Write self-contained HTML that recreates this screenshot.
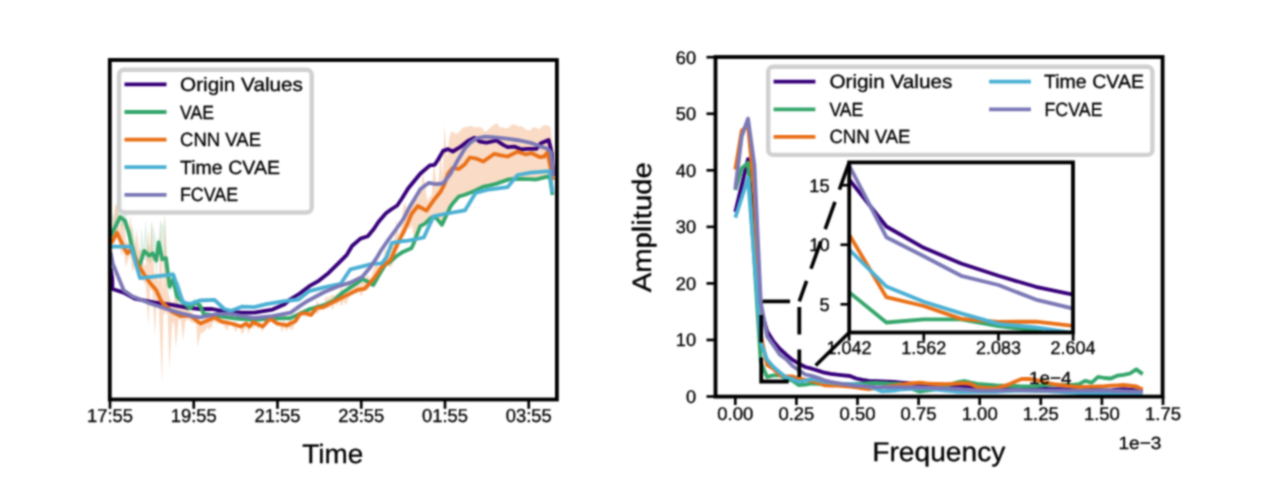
<!DOCTYPE html><html><head><meta charset="utf-8"><style>html,body{margin:0;padding:0;background:#fff;width:1280px;height:497px;overflow:hidden}svg{display:block;-webkit-font-smoothing:antialiased;will-change:transform}text{text-rendering:geometricPrecision}</style></head><body>
<svg width="1280" height="497" viewBox="0 0 1280 497">
<defs><filter id="soft" x="0" y="0" width="1280" height="497" filterUnits="userSpaceOnUse" color-interpolation-filters="sRGB"><feConvolveMatrix order="5" kernelMatrix="0.00087 0.00695 0.01388 0.00695 0.00087 0.00695 0.05540 0.11068 0.05540 0.00695 0.01388 0.11068 0.22111 0.11068 0.01388 0.00695 0.05540 0.11068 0.05540 0.00695 0.00087 0.00695 0.01388 0.00695 0.00087" divisor="1" edgeMode="duplicate"/></filter></defs>
<rect x="0" y="0" width="1280" height="497" fill="#fff"/>
<g filter="url(#soft)">
<rect x="0" y="0" width="1280" height="497" fill="#fff"/>
<defs><clipPath id="cl"><rect x="110" y="60" width="447" height="339"/></clipPath><clipPath id="cr"><rect x="715.5" y="57" width="447.5" height="339.5"/></clipPath><clipPath id="ci"><rect x="849.2" y="162.4" width="223.8" height="170.1"/></clipPath></defs>
<g clip-path="url(#cl)">
<polygon points="110.5,229.0 112.7,211.7 114.9,219.1 117.0,200.0 119.3,210.6 121.5,190.0 123.7,198.3 125.9,212.3 128.1,224.1 130.3,232.9 132.5,225.6 134.7,237.2 136.9,254.6 139.1,260.1 141.3,227.6 143.5,245.3 145.7,219.7 147.9,244.4 150.1,246.4 151.3,221.0 154.5,231.8 156.7,241.3 158.9,235.9 160.3,220.0 163.3,226.1 164.8,214.0 167.7,264.6 169.9,278.7 172.1,270.0 174.3,278.9 176.5,288.0 178.7,280.4 180.9,285.4 183.1,298.6 185.3,299.7 187.5,304.3 189.7,300.3 191.9,302.6 194.1,297.8 196.3,300.7 198.5,303.4 200.7,306.1 202.9,311.0 205.1,313.1 207.3,312.2 209.5,311.5 211.7,314.3 213.9,312.2 216.1,313.3 218.3,315.4 220.5,315.5 222.7,313.5 224.9,316.3 227.1,316.6 229.3,316.4 231.5,317.0 233.7,317.5 235.9,317.4 238.1,317.3 240.3,317.9 242.5,316.5 244.7,315.6 246.9,318.5 249.1,317.2 251.3,318.9 253.5,316.9 255.7,318.5 257.9,318.7 260.1,317.3 262.3,318.0 264.5,318.3 266.7,316.7 268.9,318.0 271.1,317.9 273.3,316.0 275.5,317.1 277.7,315.6 279.9,317.6 282.1,317.2 284.3,315.8 286.5,317.4 288.7,315.5 290.9,317.1 293.1,316.1 295.3,314.2 297.5,313.1 299.7,312.0 301.9,310.1 304.1,310.8 306.3,309.9 308.5,307.5 310.7,305.9 312.9,307.4 315.1,306.4 317.3,304.8 319.5,305.5 321.7,303.1 323.9,304.0 326.1,302.6 328.3,302.0 330.5,301.5 332.7,299.5 334.9,297.0 337.1,296.4 339.3,294.8 341.5,291.7 343.7,291.1 345.9,288.9 348.1,287.5 350.3,284.6 352.5,285.0 354.7,283.5 356.9,281.8 359.1,280.6 361.3,278.8 363.5,277.8 365.7,277.6 367.9,280.9 370.1,280.7 372.3,283.7 374.5,281.8 376.7,276.8 378.9,273.1 381.1,270.6 383.3,267.2 385.5,263.7 387.7,262.0 389.9,261.1 392.1,259.1 394.3,257.1 396.5,255.5 398.7,253.3 400.9,250.7 403.1,250.9 405.3,250.0 407.5,249.2 409.7,247.2 411.9,246.2 414.1,240.6 416.3,235.3 418.5,229.7 420.7,225.1 422.9,223.4 425.1,221.5 427.3,219.4 429.5,216.5 431.7,215.2 433.9,216.8 436.1,215.7 438.3,219.8 440.5,222.5 442.7,221.8 444.9,217.8 447.1,212.3 449.3,206.8 451.5,203.8 453.7,199.7 455.9,197.2 458.1,196.5 460.3,194.1 462.5,194.3 464.7,194.1 466.9,192.9 469.1,192.4 471.3,190.5 473.5,189.4 475.7,187.9 477.9,186.7 480.1,186.4 482.3,186.4 484.5,185.4 486.7,184.4 488.9,183.4 491.1,182.2 493.3,183.7 495.5,183.1 497.7,180.6 499.9,180.3 502.1,180.0 504.3,180.3 506.5,178.6 508.7,178.5 510.9,176.2 513.1,176.2 515.3,178.0 517.5,178.2 519.7,178.1 521.9,176.4 524.1,176.4 526.3,178.3 528.5,178.5 530.7,176.9 532.9,178.2 535.1,178.4 537.3,177.0 539.5,177.1 541.7,176.9 543.9,176.8 546.1,176.4 548.3,175.7 550.5,180.5 552.7,194.2 552.7,195.8 550.5,182.7 548.3,178.5 546.1,177.6 543.9,178.1 541.7,180.0 539.5,179.2 537.3,180.3 535.1,182.0 532.9,182.2 530.7,179.9 528.5,180.4 526.3,179.8 524.1,180.3 521.9,179.8 519.7,179.7 517.5,180.5 515.3,181.3 513.1,181.3 510.9,181.5 508.7,180.0 506.5,181.0 504.3,182.8 502.1,182.4 499.9,184.4 497.7,183.9 495.5,185.3 493.3,185.0 491.1,186.0 488.9,188.4 486.7,188.6 484.5,187.0 482.3,189.8 480.1,188.9 477.9,190.2 475.7,191.7 473.5,192.4 471.3,193.7 469.1,194.5 466.9,194.9 464.7,195.9 462.5,197.1 460.3,198.5 458.1,198.1 455.9,200.6 453.7,203.4 451.5,207.0 449.3,209.9 447.1,215.9 444.9,219.1 442.7,224.7 440.5,224.1 438.3,221.9 436.1,219.3 433.9,218.3 431.7,218.8 429.5,220.0 427.3,223.4 425.1,225.6 422.9,226.1 420.7,226.9 418.5,232.6 416.3,239.3 414.1,242.8 411.9,248.4 409.7,249.7 407.5,251.1 405.3,252.7 403.1,254.5 400.9,253.8 398.7,255.5 396.5,259.1 394.3,259.5 392.1,260.7 389.9,262.8 387.7,265.4 385.5,265.7 383.3,270.2 381.1,272.3 378.9,277.6 376.7,281.6 374.5,284.9 372.3,285.9 370.1,284.3 367.9,282.5 365.7,282.8 363.5,280.4 361.3,280.5 359.1,282.3 356.9,285.0 354.7,285.5 352.5,287.0 350.3,288.1 348.1,291.1 345.9,291.1 343.7,292.5 341.5,294.3 339.3,298.1 337.1,298.9 334.9,300.1 332.7,301.8 330.5,305.1 328.3,305.6 326.1,305.1 323.9,307.1 321.7,306.3 319.5,308.9 317.3,307.5 315.1,308.1 312.9,308.9 310.7,309.7 308.5,311.4 306.3,312.2 304.1,313.4 301.9,313.5 299.7,314.7 297.5,315.5 295.3,318.7 293.1,318.5 290.9,320.0 288.7,320.6 286.5,319.4 284.3,319.8 282.1,319.0 279.9,319.5 277.7,319.1 275.5,319.7 273.3,319.3 271.1,319.7 268.9,319.5 266.7,321.8 264.5,320.0 262.3,320.5 260.1,321.8 257.9,322.0 255.7,321.2 253.5,320.6 251.3,321.7 249.1,321.9 246.9,321.1 244.7,320.1 242.5,319.8 240.3,319.5 238.1,319.4 235.9,319.2 233.7,319.8 231.5,318.9 229.3,318.8 227.1,318.0 224.9,317.8 222.7,317.8 220.5,317.4 218.3,316.8 216.1,316.5 213.9,316.1 211.7,317.7 209.5,315.4 207.3,316.0 205.1,316.4 202.9,314.0 200.7,307.6 198.5,305.8 196.3,304.1 194.1,305.1 191.9,309.1 189.7,310.6 187.5,313.1 185.3,306.4 183.1,304.4 180.9,309.1 178.7,303.9 176.5,308.5 174.3,288.8 172.1,288.1 169.9,291.9 167.7,287.2 165.5,274.7 163.3,266.0 161.1,258.9 158.9,250.4 156.7,276.1 154.5,260.8 152.3,260.7 150.1,263.2 147.9,260.9 145.7,260.1 143.5,257.4 141.3,274.7 139.1,270.8 136.9,265.3 134.7,259.4 132.5,257.2 130.3,243.3 128.1,235.4 125.9,228.4 123.7,223.2 121.5,228.8 119.3,224.5 117.1,229.2 114.9,236.1 112.7,240.4 110.5,239.4" fill="#35a66b" fill-opacity="0.16" stroke="none"/>
<polygon points="110.5,236.9 112.7,230.0 114.9,205.4 118.0,205.0 119.3,229.2 121.5,223.1 124.0,215.0 125.9,241.4 128.1,243.7 130.3,215.1 132.5,234.6 134.7,248.4 136.9,228.9 139.1,251.1 141.3,249.4 143.5,264.8 145.7,265.6 148.5,230.0 150.1,258.4 151.3,221.0 154.5,275.4 156.7,271.9 158.9,283.4 160.3,220.0 163.3,295.3 164.8,214.0 167.7,289.9 169.9,298.6 172.1,304.7 174.3,299.2 176.5,284.0 178.7,309.3 180.9,304.6 183.1,295.7 185.3,302.2 187.5,305.0 189.7,312.8 191.9,311.3 194.1,316.9 196.3,318.3 198.5,320.6 200.7,321.5 202.9,319.1 205.1,320.1 207.3,317.3 209.5,316.8 211.7,317.8 213.9,316.6 216.1,315.5 218.3,318.8 220.5,320.1 222.7,318.9 224.9,320.4 227.1,319.7 229.3,322.3 231.5,322.0 233.7,322.5 235.9,321.7 238.1,324.7 240.3,324.0 242.5,324.6 244.7,323.3 246.9,320.9 249.1,324.4 251.3,320.1 253.5,321.5 255.7,319.6 257.9,322.9 260.1,321.9 262.3,323.9 264.5,322.7 266.7,321.3 268.9,316.5 271.1,318.4 273.3,319.9 275.5,321.3 277.7,320.9 279.9,323.0 282.1,322.2 284.3,320.0 286.5,324.2 288.7,320.2 290.9,320.2 293.1,319.9 295.3,320.2 297.5,316.6 299.7,310.2 301.9,310.7 304.1,311.5 306.3,312.0 308.5,311.4 310.7,310.3 312.9,310.9 315.1,307.4 317.3,300.1 319.5,305.6 321.7,304.8 323.9,304.1 326.1,296.0 328.3,298.6 330.5,295.9 332.7,294.8 334.9,295.5 337.1,293.5 339.3,292.5 341.5,285.8 343.7,292.7 345.9,293.2 348.1,285.3 350.3,285.1 352.5,289.0 354.7,285.2 356.9,279.0 359.1,285.0 361.3,281.6 363.5,282.0 365.7,278.2 367.9,274.8 370.1,279.1 372.3,273.2 374.5,266.7 376.7,262.3 378.9,268.2 381.1,263.8 383.3,258.6 385.5,248.1 387.7,253.5 389.9,256.0 392.1,246.1 394.3,239.5 396.5,219.6 398.7,235.8 400.9,228.4 403.1,207.6 405.3,201.7 407.5,214.4 409.7,210.0 411.9,202.4 414.1,201.2 416.3,199.7 418.5,198.1 420.7,191.6 422.9,172.8 425.1,185.2 427.3,201.0 429.5,197.4 431.7,194.6 433.9,161.0 436.1,180.8 438.3,184.6 440.5,152.3 442.7,178.8 444.4,125.0 447.1,158.7 449.3,137.6 451.5,131.0 453.7,132.8 455.9,133.8 458.1,133.2 460.3,130.4 462.5,127.9 464.7,127.2 466.9,126.8 469.1,126.3 471.3,125.8 473.5,126.9 475.7,127.4 477.9,126.9 480.1,127.2 482.3,128.0 484.5,131.6 486.7,130.8 488.9,129.0 491.1,127.1 493.3,125.1 495.5,123.7 497.7,123.6 499.9,127.9 502.1,127.1 504.3,127.9 506.5,128.1 508.7,127.8 510.9,125.3 513.1,124.6 515.3,124.6 517.5,125.9 519.7,126.4 521.9,126.3 524.1,128.0 526.3,129.5 528.5,130.3 530.7,130.2 532.9,127.3 535.1,127.5 537.3,128.0 539.5,129.6 541.7,126.5 543.9,125.3 546.1,125.1 548.3,125.7 550.5,126.4 552.7,145.9 552.7,181.4 550.5,177.0 548.3,176.4 546.1,177.0 543.9,177.5 541.7,178.1 539.5,178.6 537.3,179.2 535.1,179.4 532.9,179.4 530.7,179.4 528.5,179.4 526.3,179.4 524.1,179.4 521.9,179.4 519.7,179.4 517.5,179.4 515.3,179.4 513.1,179.4 510.9,179.4 508.7,179.4 506.5,180.1 504.3,180.8 502.1,181.5 499.9,182.2 497.7,182.9 495.5,183.6 493.3,184.3 491.1,185.0 488.9,185.7 486.7,186.5 484.5,187.3 482.3,188.1 480.1,188.9 477.9,189.7 475.7,190.6 473.5,191.4 471.3,192.1 469.1,192.9 466.9,193.7 464.7,194.4 462.5,195.2 460.3,196.0 458.1,197.3 455.9,200.0 453.7,202.7 451.5,205.4 449.3,209.1 447.1,213.8 444.9,218.5 442.7,223.2 440.5,223.2 438.3,220.5 436.1,217.8 433.9,217.6 431.7,217.6 429.5,218.8 427.3,220.6 425.1,222.3 422.9,224.0 420.7,225.7 418.5,230.6 416.3,236.3 414.1,242.1 411.9,224.3 409.7,229.5 407.5,225.9 405.3,234.4 403.1,236.0 400.9,240.6 398.7,248.8 396.5,248.7 394.3,254.5 392.1,266.0 389.9,267.8 387.7,265.3 385.5,266.3 383.3,269.6 381.1,275.0 378.9,276.8 376.7,282.6 374.5,281.3 372.3,282.9 370.1,286.9 367.9,289.9 365.7,289.9 363.5,291.3 361.3,296.6 359.1,291.7 356.9,293.8 354.7,293.4 352.5,294.8 350.3,295.7 348.1,299.5 345.9,305.2 343.7,301.2 341.5,306.7 339.3,301.0 337.1,305.5 334.9,303.5 332.7,310.6 330.5,305.2 328.3,308.6 326.1,308.3 323.9,310.1 321.7,310.2 319.5,310.1 317.3,314.4 315.1,311.9 312.9,315.1 310.7,316.8 308.5,316.5 306.3,316.9 304.1,316.0 301.9,315.4 299.7,316.2 297.5,319.7 295.3,323.3 293.1,329.1 290.9,330.1 288.7,327.4 286.5,331.5 284.3,326.8 282.1,332.1 279.9,326.3 277.7,326.3 275.5,325.6 273.3,322.6 271.1,321.8 268.9,321.5 266.7,324.3 264.5,326.4 262.3,332.2 260.1,327.1 257.9,329.3 255.7,325.3 253.5,329.1 251.3,326.4 248.2,334.1 246.9,326.0 244.7,329.8 241.8,335.0 240.3,328.0 238.1,327.5 235.9,332.3 233.7,328.0 231.5,325.2 229.3,325.7 227.3,330.9 224.9,327.1 222.7,324.5 220.5,323.3 218.3,323.8 216.1,323.0 213.9,320.7 211.7,326.6 209.5,329.7 207.3,327.3 205.1,330.7 203.2,332.5 200.7,333.0 197.5,347.0 196.3,324.2 194.1,322.9 191.9,322.7 189.7,321.1 187.5,319.1 185.3,321.7 183.1,340.6 180.9,320.1 178.7,319.8 175.8,348.6 174.3,323.4 172.1,322.8 169.4,369.6 167.7,315.2 165.5,311.8 163.3,315.6 162.1,384.0 158.9,308.3 156.7,297.2 154.9,335.8 152.3,290.8 150.1,288.7 148.5,326.1 145.7,284.6 143.5,281.5 141.3,277.6 139.1,280.2 136.9,266.8 134.7,266.6 132.5,272.5 130.3,254.6 128.1,259.4 125.9,267.8 123.7,251.2 121.5,255.5 119.3,244.5 117.1,236.4 114.9,243.5 112.7,250.2 110.5,253.7" fill="#ea7017" fill-opacity="0.25" stroke="none"/>
<polyline points="110.5,268.0 112.2,278.0 112.5,289.0 123.7,292.6 134.6,298.6 153.9,302.3 170.8,304.7 186.5,307.7 200.0,309.0 212.1,309.0 224.2,311.4 242.3,312.6 254.3,312.6 272.5,309.6 284.5,304.2 290.0,299.5 299.7,293.5 309.3,286.2 317.8,281.4 328.6,272.9 338.3,263.3 346.8,254.8 352.0,246.0 360.5,238.6 367.8,236.2 373.8,229.0 378.6,221.7 385.9,213.3 391.0,209.5 397.2,205.5 402.1,198.3 408.1,188.5 420.2,173.8 429.9,165.4 434.7,164.8 438.3,159.3 443.1,150.9 448.0,149.1 452.8,151.5 460.0,147.2 468.5,140.6 474.4,137.7 480.0,141.6 486.6,142.7 496.6,140.5 503.2,144.9 507.6,147.1 514.3,146.6 520.9,149.3 527.6,148.8 536.4,148.8 540.9,143.2 548.6,139.9 551.9,153.2 553.0,176.0" fill="none" stroke="#37007a" stroke-width="3.8" stroke-linejoin="round" stroke-linecap="butt" />
<polyline points="110.5,236.0 112.2,232.8 120.1,217.1 124.9,220.7 128.5,231.6 131.0,242.4 134.6,255.7 139.0,267.5 144.2,250.9 149.1,255.7 152.7,253.3 156.3,260.6 158.7,242.4 162.3,259.3 166.0,258.1 169.6,286.6 173.2,279.3 176.8,296.2 182.9,302.3 190.1,308.3 195.0,302.3 200.0,305.4 203.6,313.8 218.1,316.2 236.2,318.6 254.3,319.9 272.5,318.6 290.6,318.0 300.0,313.8 309.3,309.2 326.2,304.3 333.5,300.7 343.1,292.3 350.4,287.4 357.6,282.6 362.5,279.0 367.3,281.4 373.3,285.0 379.4,274.2 385.4,264.5 390.0,262.1 395.6,256.8 402.8,251.9 411.3,248.3 413.0,245.0 420.2,226.1 425.0,223.6 431.1,217.6 435.9,217.6 441.9,224.9 450.4,206.7 454.0,201.9 458.8,196.5 464.9,194.7 474.5,191.0 483.3,186.6 490.0,185.3 497.7,183.3 508.7,179.4 519.8,178.8 536.4,179.4 545.3,177.2 549.7,176.1 552.5,195.0" fill="none" stroke="#35a66b" stroke-width="3.8" stroke-linejoin="round" stroke-linecap="butt" />
<polyline points="110.5,243.0 112.2,241.2 117.1,232.8 123.7,247.3 127.3,253.3 131.0,249.7 138.2,265.0 144.2,274.5 149.1,281.7 156.3,290.2 161.1,301.1 166.0,305.9 172.0,311.9 180.5,316.0 190.0,315.5 200.5,323.5 214.5,317.4 221.7,321.7 231.4,323.5 241.1,326.5 245.9,323.5 249.5,326.5 253.1,322.3 262.8,326.5 270.0,318.6 277.3,323.5 287.0,325.3 295.4,321.1 300.0,314.0 305.0,313.0 311.0,315.0 316.6,308.0 323.8,306.8 331.1,303.1 338.3,299.5 345.6,295.9 357.6,289.9 364.9,288.6 374.5,277.8 381.8,266.9 390.5,260.0 397.5,244.0 406.0,227.0 411.5,214.0 417.8,206.0 426.5,210.6 433.5,200.5 440.7,191.5 444.3,184.7 448.0,173.8 452.8,167.8 458.8,169.0 464.9,164.2 469.7,157.5 476.6,158.7 483.3,161.5 494.4,153.8 501.0,155.4 507.6,156.5 517.6,151.6 525.4,154.3 532.0,153.2 539.7,157.1 544.2,156.5 547.5,152.1 553.0,180.0" fill="none" stroke="#ea7017" stroke-width="3.8" stroke-linejoin="round" stroke-linecap="butt" />
<polyline points="110.5,246.7 131.0,246.7 140.0,278.1 173.2,274.5 182.9,302.3 190.1,304.1 199.8,300.5 214.5,299.9 224.2,309.0 231.4,310.8 242.3,306.6 254.3,307.2 266.4,304.2 284.5,301.1 298.5,299.5 309.3,291.1 326.2,286.8 340.7,283.8 350.4,269.3 362.5,266.3 372.1,263.9 381.8,263.3 386.6,257.2 391.9,242.9 402.8,241.1 408.1,240.6 423.8,237.5 433.5,216.4 444.3,214.0 464.9,210.4 475.6,193.0 486.6,189.9 507.6,187.1 517.6,175.0 530.9,172.7 549.7,171.1 552.5,193.0" fill="none" stroke="#4bb0d4" stroke-width="3.8" stroke-linejoin="round" stroke-linecap="butt" />
<polyline points="110.5,252.0 112.8,263.6 123.7,290.2 132.2,296.2 150.3,303.5 168.4,309.5 180.5,313.1 192.5,316.2 200.0,317.4 218.1,313.8 230.2,313.8 254.3,318.0 272.5,316.2 290.6,312.6 300.0,305.9 308.1,300.7 323.8,292.3 338.3,286.2 350.4,282.6 362.5,276.6 369.7,268.1 377.0,257.2 381.0,250.5 388.3,239.9 397.0,228.0 404.0,218.0 409.0,208.0 414.5,199.0 420.5,189.0 428.6,182.9 435.9,184.1 443.1,183.5 450.4,173.8 457.6,160.5 464.9,148.5 470.0,143.0 476.6,138.3 485.5,136.6 497.7,137.7 508.7,138.8 519.8,140.5 532.0,143.2 540.9,146.6 547.5,148.8 550.8,152.1 553.5,176.0" fill="none" stroke="#7b78b6" stroke-width="3.8" stroke-linejoin="round" stroke-linecap="butt" />
</g>
<rect x="109.8" y="60" width="447.1" height="339.5" fill="none" stroke="#000" stroke-width="3.8"/>
<line x1="110.00" y1="399.5" x2="110.00" y2="408.8" stroke="#000" stroke-width="2.7"/>
<text x="110.00" y="421.9" font-size="18.7" text-anchor="middle" font-family='"Liberation Sans", sans-serif' textLength="46" lengthAdjust="spacingAndGlyphs" stroke="#000" stroke-width="0.3" >17:55</text>
<line x1="193.75" y1="399.5" x2="193.75" y2="408.8" stroke="#000" stroke-width="2.7"/>
<text x="193.75" y="421.9" font-size="18.7" text-anchor="middle" font-family='"Liberation Sans", sans-serif' textLength="46" lengthAdjust="spacingAndGlyphs" stroke="#000" stroke-width="0.3" >19:55</text>
<line x1="277.50" y1="399.5" x2="277.50" y2="408.8" stroke="#000" stroke-width="2.7"/>
<text x="277.50" y="421.9" font-size="18.7" text-anchor="middle" font-family='"Liberation Sans", sans-serif' textLength="46" lengthAdjust="spacingAndGlyphs" stroke="#000" stroke-width="0.3" >21:55</text>
<line x1="361.25" y1="399.5" x2="361.25" y2="408.8" stroke="#000" stroke-width="2.7"/>
<text x="361.25" y="421.9" font-size="18.7" text-anchor="middle" font-family='"Liberation Sans", sans-serif' textLength="46" lengthAdjust="spacingAndGlyphs" stroke="#000" stroke-width="0.3" >23:55</text>
<line x1="445.00" y1="399.5" x2="445.00" y2="408.8" stroke="#000" stroke-width="2.7"/>
<text x="445.00" y="421.9" font-size="18.7" text-anchor="middle" font-family='"Liberation Sans", sans-serif' textLength="46" lengthAdjust="spacingAndGlyphs" stroke="#000" stroke-width="0.3" >01:55</text>
<line x1="528.75" y1="399.5" x2="528.75" y2="408.8" stroke="#000" stroke-width="2.7"/>
<text x="528.75" y="421.9" font-size="18.7" text-anchor="middle" font-family='"Liberation Sans", sans-serif' textLength="46" lengthAdjust="spacingAndGlyphs" stroke="#000" stroke-width="0.3" >03:55</text>
<text x="332.8" y="463" font-size="26.5" text-anchor="middle" font-family='"Liberation Sans", sans-serif' textLength="61" lengthAdjust="spacingAndGlyphs" stroke="#000" stroke-width="0.3" >Time</text>
<rect x="119" y="69.8" width="192.7" height="142.7" rx="5" ry="5" fill="#fff" fill-opacity="0.8" stroke="#d0d0d0" stroke-width="4.4"/>
<line x1="124.5" y1="84.4" x2="166.5" y2="84.4" stroke="#37007a" stroke-width="3.8"/>
<text x="180" y="90.9" font-size="19.2" text-anchor="start" font-family='"Liberation Sans", sans-serif' textLength="123" lengthAdjust="spacingAndGlyphs" stroke="#000" stroke-width="0.3" >Origin Values</text>
<line x1="124.5" y1="112.0" x2="166.5" y2="112.0" stroke="#35a66b" stroke-width="3.8"/>
<text x="180" y="118.5" font-size="19.2" text-anchor="start" font-family='"Liberation Sans", sans-serif' textLength="34" lengthAdjust="spacingAndGlyphs" stroke="#000" stroke-width="0.3" >VAE</text>
<line x1="124.5" y1="139.6" x2="166.5" y2="139.6" stroke="#ea7017" stroke-width="3.8"/>
<text x="180" y="146.1" font-size="19.2" text-anchor="start" font-family='"Liberation Sans", sans-serif' textLength="81" lengthAdjust="spacingAndGlyphs" stroke="#000" stroke-width="0.3" >CNN VAE</text>
<line x1="124.5" y1="167.2" x2="166.5" y2="167.2" stroke="#4bb0d4" stroke-width="3.8"/>
<text x="180" y="173.7" font-size="19.2" text-anchor="start" font-family='"Liberation Sans", sans-serif' textLength="100" lengthAdjust="spacingAndGlyphs" stroke="#000" stroke-width="0.3" >Time CVAE</text>
<line x1="124.5" y1="194.8" x2="166.5" y2="194.8" stroke="#7b78b6" stroke-width="3.8"/>
<text x="180" y="201.3" font-size="19.2" text-anchor="start" font-family='"Liberation Sans", sans-serif' textLength="58" lengthAdjust="spacingAndGlyphs" stroke="#000" stroke-width="0.3" >FCVAE</text>
<g clip-path="url(#cr)">
<polyline points="735.3,212.0 748.0,159.2 760.8,308.9 767.1,331.3 773.5,341.4 779.9,348.9 786.2,354.7 792.6,359.9 798.9,363.6 805.3,367.0 811.7,368.7 818.0,370.6 824.4,372.7 830.8,373.8 837.1,374.7 843.5,375.4 849.9,376.0 856.2,378.5 862.6,379.8 869.0,380.8 875.3,381.1 881.7,381.4 888.1,381.7 894.4,382.0 900.8,382.6 907.2,383.2 913.5,383.8 919.9,384.1 926.2,384.4 932.6,384.7 939.0,385.0 945.3,385.3 951.7,385.6 958.1,385.8 964.4,386.0 970.8,386.9 977.2,387.7 983.5,388.3 989.9,388.0 996.3,387.7 1002.6,387.3 1009.0,387.0 1015.4,386.7 1021.7,386.9 1028.1,387.4 1034.5,387.9 1040.8,388.3 1047.2,388.8 1053.5,389.1 1059.9,389.2 1066.3,389.4 1072.6,389.6 1079.0,389.7 1085.4,389.9 1091.7,390.0 1098.1,390.2 1104.5,390.4 1110.8,390.4 1117.2,389.7 1123.6,389.1 1129.9,389.7 1136.3,390.4 1142.7,391.0" fill="none" stroke="#37007a" stroke-width="3.8" stroke-linejoin="round" stroke-linecap="butt" />
<polyline points="735.3,190.0 741.7,168.3 748.0,162.7 760.8,362.4 767.1,376.9 773.5,375.4 779.9,375.4 786.2,378.6 792.6,380.7 798.9,385.2 805.3,384.7 811.7,383.5 818.0,383.9 824.4,384.4 830.8,384.8 837.1,384.7 843.5,384.5 849.9,384.3 856.2,384.0 862.6,383.6 869.0,383.2 875.3,382.8 881.7,383.1 888.1,383.5 894.4,383.7 900.8,384.0 907.2,385.5 913.5,389.4 919.9,391.6 926.2,390.7 932.6,389.9 939.0,388.2 945.3,386.1 951.7,384.0 958.1,382.2 964.4,381.0 970.8,382.6 977.2,383.9 983.5,384.5 989.9,385.0 996.3,385.5 1002.6,385.7 1009.0,385.9 1015.4,386.1 1021.7,386.3 1028.1,386.5 1034.5,386.4 1040.8,385.7 1047.2,385.1 1053.5,384.8 1059.9,384.9 1066.3,384.9 1072.6,385.0 1079.0,384.1 1085.4,380.8 1091.7,382.6 1098.1,376.9 1104.5,378.0 1110.8,378.5 1117.2,375.7 1123.6,374.8 1129.9,373.5 1136.3,369.4 1142.7,374.1" fill="none" stroke="#35a66b" stroke-width="3.8" stroke-linejoin="round" stroke-linecap="butt" />
<polyline points="735.3,169.5 741.7,131.0 748.0,125.0 754.4,192.0 760.8,335.0 767.1,364.9 773.5,369.0 779.9,375.2 786.2,376.5 792.6,376.5 798.9,378.5 805.3,379.8 811.7,380.8 818.0,383.0 824.4,385.3 830.8,385.6 837.1,385.6 843.5,386.0 849.9,386.6 856.2,387.4 862.6,388.4 869.0,389.0 875.3,388.2 881.7,387.3 888.1,386.4 894.4,385.6 900.8,384.7 907.2,383.9 913.5,383.1 919.9,382.6 926.2,383.3 932.6,383.8 939.0,384.0 945.3,384.2 951.7,383.9 958.1,383.5 964.4,383.2 970.8,384.0 977.2,387.1 983.5,387.7 989.9,388.1 996.3,387.9 1002.6,386.6 1009.0,384.4 1015.4,381.5 1021.7,379.0 1028.1,379.0 1034.5,379.5 1040.8,381.2 1047.2,382.9 1053.5,384.1 1059.9,385.0 1066.3,385.7 1072.6,386.5 1079.0,387.0 1085.4,386.8 1091.7,386.6 1098.1,386.3 1104.5,386.1 1110.8,385.7 1117.2,385.3 1123.6,385.0 1129.9,385.6 1136.3,386.5 1142.7,389.4" fill="none" stroke="#ea7017" stroke-width="3.8" stroke-linejoin="round" stroke-linecap="butt" />
<polyline points="735.3,217.7 748.0,178.0 760.8,342.2 767.1,359.8 773.5,367.0 779.9,372.5 786.2,377.5 792.6,379.2 798.9,381.9 805.3,380.6 811.7,379.0 818.0,380.4 824.4,381.9 830.8,382.6 837.1,383.3 843.5,383.8 849.9,384.2 856.2,384.6 862.6,385.4 869.0,387.0 875.3,388.7 881.7,391.3 888.1,391.0 894.4,390.7 900.8,389.5 907.2,389.2 913.5,388.9 919.9,388.6 926.2,388.7 932.6,389.3 939.0,389.9 945.3,390.6 951.7,391.2 958.1,391.8 964.4,391.9 970.8,391.9 977.2,391.9 983.5,391.9 989.9,391.9 996.3,391.8 1002.6,391.4 1009.0,391.1 1015.4,390.8 1021.7,390.8 1028.1,390.9 1034.5,391.0 1040.8,391.1 1047.2,391.2 1053.5,391.5 1059.9,391.9 1066.3,392.3 1072.6,392.7 1079.0,393.0 1085.4,393.4 1091.7,393.7 1098.1,393.6 1104.5,393.6 1110.8,393.5 1117.2,393.4 1123.6,393.4 1129.9,393.3 1136.3,393.3 1142.7,393.2" fill="none" stroke="#4bb0d4" stroke-width="3.8" stroke-linejoin="round" stroke-linecap="butt" />
<polyline points="735.3,189.0 741.7,136.5 748.0,118.6 754.4,165.0 760.8,302.3 767.1,336.4 773.5,345.4 779.9,354.7 786.2,359.1 792.6,366.0 798.9,370.3 805.3,374.5 811.7,375.9 818.0,377.9 824.4,380.3 830.8,381.8 837.1,383.0 843.5,384.1 849.9,385.0 856.2,385.8 862.6,386.2 869.0,386.6 875.3,387.0 881.7,387.1 888.1,387.1 894.4,387.2 900.8,387.2 907.2,387.3 913.5,387.4 919.9,387.5 926.2,387.6 932.6,387.8 939.0,388.0 945.3,388.3 951.7,388.6 958.1,389.0 964.4,389.4 970.8,389.9 977.2,390.3 983.5,390.7 989.9,390.6 996.3,390.5 1002.6,390.3 1009.0,390.2 1015.4,390.1 1021.7,390.2 1028.1,390.3 1034.5,390.4 1040.8,390.5 1047.2,390.6 1053.5,390.6 1059.9,390.6 1066.3,390.6 1072.6,390.6 1079.0,390.6 1085.4,390.6 1091.7,390.6 1098.1,390.6 1104.5,390.7 1110.8,390.9 1117.2,391.0 1123.6,391.1 1129.9,391.3 1136.3,391.4 1142.7,391.6" fill="none" stroke="#7b78b6" stroke-width="3.8" stroke-linejoin="round" stroke-linecap="butt" />
</g>
<rect x="715.5" y="57" width="447.1" height="339.6" fill="none" stroke="#000" stroke-width="3.8"/>
<line x1="706.5" y1="396.50" x2="715.5" y2="396.50" stroke="#000" stroke-width="2.7"/>
<text x="696" y="402.80" font-size="18.2" text-anchor="end" font-family='"Liberation Sans", sans-serif' stroke="#000" stroke-width="0.3" >0</text>
<line x1="706.5" y1="339.95" x2="715.5" y2="339.95" stroke="#000" stroke-width="2.7"/>
<text x="696" y="346.25" font-size="18.2" text-anchor="end" font-family='"Liberation Sans", sans-serif' stroke="#000" stroke-width="0.3" >10</text>
<line x1="706.5" y1="283.40" x2="715.5" y2="283.40" stroke="#000" stroke-width="2.7"/>
<text x="696" y="289.70" font-size="18.2" text-anchor="end" font-family='"Liberation Sans", sans-serif' stroke="#000" stroke-width="0.3" >20</text>
<line x1="706.5" y1="226.85" x2="715.5" y2="226.85" stroke="#000" stroke-width="2.7"/>
<text x="696" y="233.15" font-size="18.2" text-anchor="end" font-family='"Liberation Sans", sans-serif' stroke="#000" stroke-width="0.3" >30</text>
<line x1="706.5" y1="170.30" x2="715.5" y2="170.30" stroke="#000" stroke-width="2.7"/>
<text x="696" y="176.60" font-size="18.2" text-anchor="end" font-family='"Liberation Sans", sans-serif' stroke="#000" stroke-width="0.3" >40</text>
<line x1="706.5" y1="113.75" x2="715.5" y2="113.75" stroke="#000" stroke-width="2.7"/>
<text x="696" y="120.05" font-size="18.2" text-anchor="end" font-family='"Liberation Sans", sans-serif' stroke="#000" stroke-width="0.3" >50</text>
<line x1="706.5" y1="57.20" x2="715.5" y2="57.20" stroke="#000" stroke-width="2.7"/>
<text x="696" y="63.50" font-size="18.2" text-anchor="end" font-family='"Liberation Sans", sans-serif' stroke="#000" stroke-width="0.3" >60</text>
<line x1="735.30" y1="396.5" x2="735.30" y2="405" stroke="#000" stroke-width="2.7"/>
<text x="735.30" y="419.8" font-size="18.2" text-anchor="middle" font-family='"Liberation Sans", sans-serif' textLength="36" lengthAdjust="spacingAndGlyphs" stroke="#000" stroke-width="0.3" >0.00</text>
<line x1="796.40" y1="396.5" x2="796.40" y2="405" stroke="#000" stroke-width="2.7"/>
<text x="796.40" y="419.8" font-size="18.2" text-anchor="middle" font-family='"Liberation Sans", sans-serif' textLength="36" lengthAdjust="spacingAndGlyphs" stroke="#000" stroke-width="0.3" >0.25</text>
<line x1="857.50" y1="396.5" x2="857.50" y2="405" stroke="#000" stroke-width="2.7"/>
<text x="857.50" y="419.8" font-size="18.2" text-anchor="middle" font-family='"Liberation Sans", sans-serif' textLength="36" lengthAdjust="spacingAndGlyphs" stroke="#000" stroke-width="0.3" >0.50</text>
<line x1="918.60" y1="396.5" x2="918.60" y2="405" stroke="#000" stroke-width="2.7"/>
<text x="918.60" y="419.8" font-size="18.2" text-anchor="middle" font-family='"Liberation Sans", sans-serif' textLength="36" lengthAdjust="spacingAndGlyphs" stroke="#000" stroke-width="0.3" >0.75</text>
<line x1="979.70" y1="396.5" x2="979.70" y2="405" stroke="#000" stroke-width="2.7"/>
<text x="979.70" y="419.8" font-size="18.2" text-anchor="middle" font-family='"Liberation Sans", sans-serif' textLength="36" lengthAdjust="spacingAndGlyphs" stroke="#000" stroke-width="0.3" >1.00</text>
<line x1="1040.80" y1="396.5" x2="1040.80" y2="405" stroke="#000" stroke-width="2.7"/>
<text x="1040.80" y="419.8" font-size="18.2" text-anchor="middle" font-family='"Liberation Sans", sans-serif' textLength="36" lengthAdjust="spacingAndGlyphs" stroke="#000" stroke-width="0.3" >1.25</text>
<line x1="1101.90" y1="396.5" x2="1101.90" y2="405" stroke="#000" stroke-width="2.7"/>
<text x="1101.90" y="419.8" font-size="18.2" text-anchor="middle" font-family='"Liberation Sans", sans-serif' textLength="36" lengthAdjust="spacingAndGlyphs" stroke="#000" stroke-width="0.3" >1.50</text>
<line x1="1163.00" y1="396.5" x2="1163.00" y2="405" stroke="#000" stroke-width="2.7"/>
<text x="1163.00" y="419.8" font-size="18.2" text-anchor="middle" font-family='"Liberation Sans", sans-serif' textLength="36" lengthAdjust="spacingAndGlyphs" stroke="#000" stroke-width="0.3" >1.75</text>
<text x="938.8" y="460.5" font-size="26.8" text-anchor="middle" font-family='"Liberation Sans", sans-serif' textLength="133" lengthAdjust="spacingAndGlyphs" stroke="#000" stroke-width="0.3" >Frequency</text>
<text x="0" y="0" font-size="26.5" text-anchor="middle" font-family='"Liberation Sans", sans-serif' textLength="130" lengthAdjust="spacingAndGlyphs" stroke="#000" stroke-width="0.3" transform="translate(650.5 227.3) rotate(-90)">Amplitude</text>
<text x="1118.5" y="449" font-size="17.6" text-anchor="start" font-family='"Liberation Sans", sans-serif' textLength="43" lengthAdjust="spacingAndGlyphs" stroke="#000" stroke-width="0.3" >1e&#8722;3</text>
<rect x="768.2" y="66.8" width="384.2" height="88.1" rx="5" ry="5" fill="#fff" fill-opacity="0.8" stroke="#d0d0d0" stroke-width="4.4"/>
<line x1="773.6" y1="81.7" x2="815.4" y2="81.7" stroke="#37007a" stroke-width="3.8"/>
<text x="829.4" y="88.2" font-size="19.2" text-anchor="start" font-family='"Liberation Sans", sans-serif' textLength="123" lengthAdjust="spacingAndGlyphs" stroke="#000" stroke-width="0.3" >Origin Values</text>
<line x1="773.6" y1="109.3" x2="815.4" y2="109.3" stroke="#35a66b" stroke-width="3.8"/>
<text x="829.4" y="115.8" font-size="19.2" text-anchor="start" font-family='"Liberation Sans", sans-serif' textLength="34" lengthAdjust="spacingAndGlyphs" stroke="#000" stroke-width="0.3" >VAE</text>
<line x1="773.6" y1="136.9" x2="815.4" y2="136.9" stroke="#ea7017" stroke-width="3.8"/>
<text x="829.4" y="143.4" font-size="19.2" text-anchor="start" font-family='"Liberation Sans", sans-serif' textLength="81" lengthAdjust="spacingAndGlyphs" stroke="#000" stroke-width="0.3" >CNN VAE</text>
<line x1="989.1" y1="81.7" x2="1030.9" y2="81.7" stroke="#4bb0d4" stroke-width="3.8"/>
<text x="1044" y="88.2" font-size="19.2" text-anchor="start" font-family='"Liberation Sans", sans-serif' textLength="100" lengthAdjust="spacingAndGlyphs" stroke="#000" stroke-width="0.3" >Time CVAE</text>
<line x1="989.1" y1="109.3" x2="1030.9" y2="109.3" stroke="#7b78b6" stroke-width="3.8"/>
<text x="1044.5" y="115.8" font-size="19.2" text-anchor="start" font-family='"Liberation Sans", sans-serif' textLength="58" lengthAdjust="spacingAndGlyphs" stroke="#000" stroke-width="0.3" >FCVAE</text>
<rect x="849.2" y="162.4" width="223.8" height="170.1" fill="#fff"/>
<g clip-path="url(#ci)">
<polyline points="849.1,179.4 886.4,226.5 923.8,247.8 961.1,263.5 998.4,275.8 1035.8,286.8 1073.1,294.6" fill="none" stroke="#37007a" stroke-width="3.8" stroke-linejoin="round" stroke-linecap="butt" />
<polyline points="849.1,292.1 886.4,322.5 923.8,319.4 961.1,319.4 998.4,326.1 1035.8,330.5 1073.1,340.0" fill="none" stroke="#35a66b" stroke-width="3.8" stroke-linejoin="round" stroke-linecap="butt" />
<polyline points="849.1,234.4 886.4,297.2 923.8,306.0 961.1,318.9 998.4,321.8 1035.8,321.7 1073.1,325.9" fill="none" stroke="#ea7017" stroke-width="3.8" stroke-linejoin="round" stroke-linecap="butt" />
<polyline points="849.1,249.5 886.4,286.5 923.8,301.7 961.1,313.4 998.4,323.8 1035.8,327.4 1073.1,333.0" fill="none" stroke="#4bb0d4" stroke-width="3.8" stroke-linejoin="round" stroke-linecap="butt" />
<polyline points="849.1,165.4 886.4,237.2 923.8,256.3 961.1,275.8 998.4,285.0 1035.8,299.6 1073.1,308.6" fill="none" stroke="#7b78b6" stroke-width="3.8" stroke-linejoin="round" stroke-linecap="butt" />
</g>
<rect x="849.2" y="162.4" width="223.8" height="170.1" fill="none" stroke="#000" stroke-width="3.8"/>
<line x1="849.10" y1="332.5" x2="849.10" y2="340.8" stroke="#000" stroke-width="2.7"/>
<text x="849.10" y="354.3" font-size="18.2" text-anchor="middle" font-family='"Liberation Sans", sans-serif' textLength="45" lengthAdjust="spacingAndGlyphs" stroke="#000" stroke-width="0.3" >1.042</text>
<line x1="923.77" y1="332.5" x2="923.77" y2="340.8" stroke="#000" stroke-width="2.7"/>
<text x="923.77" y="354.3" font-size="18.2" text-anchor="middle" font-family='"Liberation Sans", sans-serif' textLength="45" lengthAdjust="spacingAndGlyphs" stroke="#000" stroke-width="0.3" >1.562</text>
<line x1="998.44" y1="332.5" x2="998.44" y2="340.8" stroke="#000" stroke-width="2.7"/>
<text x="998.44" y="354.3" font-size="18.2" text-anchor="middle" font-family='"Liberation Sans", sans-serif' textLength="45" lengthAdjust="spacingAndGlyphs" stroke="#000" stroke-width="0.3" >2.083</text>
<line x1="1073.11" y1="332.5" x2="1073.11" y2="340.8" stroke="#000" stroke-width="2.7"/>
<text x="1073.11" y="354.3" font-size="18.2" text-anchor="middle" font-family='"Liberation Sans", sans-serif' textLength="45" lengthAdjust="spacingAndGlyphs" stroke="#000" stroke-width="0.3" >2.604</text>
<line x1="840.5" y1="304.3" x2="849.2" y2="304.3" stroke="#000" stroke-width="2.7"/>
<text x="829.5" y="310.60" font-size="18.2" text-anchor="end" font-family='"Liberation Sans", sans-serif' stroke="#000" stroke-width="0.3" >5</text>
<line x1="840.5" y1="244.75" x2="849.2" y2="244.75" stroke="#000" stroke-width="2.7"/>
<text x="829.5" y="251.05" font-size="18.2" text-anchor="end" font-family='"Liberation Sans", sans-serif' stroke="#000" stroke-width="0.3" >10</text>
<line x1="840.5" y1="185.2" x2="849.2" y2="185.2" stroke="#000" stroke-width="2.7"/>
<text x="829.5" y="191.50" font-size="18.2" text-anchor="end" font-family='"Liberation Sans", sans-serif' stroke="#000" stroke-width="0.3" >15</text>
<text x="1029" y="384.3" font-size="17.6" text-anchor="start" font-family='"Liberation Sans", sans-serif' textLength="42.5" lengthAdjust="spacingAndGlyphs" stroke="#000" stroke-width="0.3" >1e&#8722;4</text>
<path d="M761.2 381.5 H799.3 V301.3 H761.2 Z" fill="none" stroke="#000" stroke-width="3.8" stroke-dasharray="27.5 15"/>
<line x1="849.2" y1="162.4" x2="799.3" y2="301.3" stroke="#000" stroke-width="3.6" stroke-dasharray="29 13"/>
<line x1="849.2" y1="332.5" x2="799.3" y2="381.5" stroke="#000" stroke-width="3.6" stroke-dasharray="47 30"/>
</g>
</svg></body></html>
